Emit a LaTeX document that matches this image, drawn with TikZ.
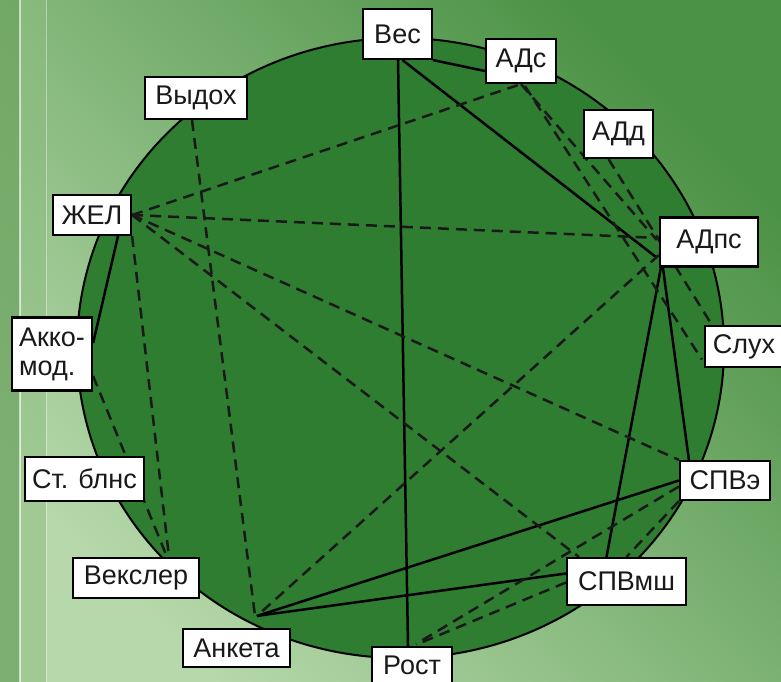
\documentclass[tikz,border=0pt]{standalone}
\usepackage{fontspec}
\setmainfont{Liberation Sans}
\usetikzlibrary{calc}
\pgfdeclarelayer{bg}
\pgfdeclarelayer{edges}
\pgfsetlayers{bg,edges,main}
\definecolor{disk}{RGB}{47,125,48}
\definecolor{bgL}{RGB}{182,216,170}
\definecolor{bgD}{RGB}{76,146,70}
\definecolor{stripeA}{RGB}{110,165,98}
\definecolor{stripeB}{RGB}{140,188,128}
\begin{document}
\begin{tikzpicture}[x=1pt,y=-1pt,
  lbl/.style={draw=black, fill=white, line width=2.2pt, inner sep=0pt,
    font=\fontsize{27}{29}\selectfont, text=black!90},
  solidedge/.style={line width=2.5pt, draw=black},
  dashededge/.style={line width=2.5pt, draw=black!90, dash pattern=on 11pt off 7pt}]
\useasboundingbox (0,0) rectangle (781,682);
% nodes
\node[lbl, minimum width=69pt, minimum height=50pt] (ves) at (397.5,34) {Вес};
\node[lbl, minimum width=70pt, minimum height=44pt] (ads) at (521,61) {АДс};
\node[lbl, minimum width=69pt, minimum height=48pt] (add) at (618.5,134) {АДд};
\node[lbl, minimum width=98pt, minimum height=49pt] (adps) at (709,242) {АДпс};
\node[lbl, minimum width=78pt, minimum height=41pt] (sluh) at (744,346.5) {Слух};
\node[lbl, minimum width=102pt, minimum height=42pt] (vydoh) at (196,98) {Выдох};
\node[lbl, minimum width=78pt, minimum height=40pt] (zhel) at (92,215) {ЖЕЛ};
\node[lbl, minimum width=80pt, minimum height=73pt, align=left] (akk) at (52,354) {Акко-\\мод.};
\node[lbl, minimum width=119pt, minimum height=44pt] (stb) at (84.5,479) {Ст. блнс};
\node[lbl, minimum width=126pt, minimum height=40pt] (veksler) at (136,578) {Векслер};
\node[lbl, minimum width=107pt, minimum height=38pt] (anketa) at (236.5,648) {Анкета};
\node[lbl, minimum width=80pt, minimum height=50pt, text height=19pt, text depth=14pt] (rost) at (412,672) {Рост};
\node[lbl, minimum width=90pt, minimum height=39pt] (spve) at (725,480.5) {СПВэ};
\node[lbl, minimum width=119pt, minimum height=47pt] (smsh) at (626.5,581.5) {СПВмш};
\coordinate (ank) at ($(anketa.north)+(20.5,-12)$);
% background
\begin{pgfonlayer}{bg}
\shade[bottom color=bgL, top color=bgD, shading angle=-45] (0,0) rectangle (781,682);
\fill[stripeA, opacity=0.8] (0,0) rectangle (20,682);
\fill[white, opacity=0.6] (19,0) rectangle (21,682);
\fill[stripeB, opacity=0.5] (21,0) rectangle (46,682);
\fill[white, opacity=0.4] (45.5,0) rectangle (47,682);
\filldraw[fill=disk, draw=black, line width=2pt] (400.5,348) ellipse [x radius=323.5pt, y radius=310pt];
\end{pgfonlayer}
% edges
\begin{pgfonlayer}{edges}
\draw[solidedge] ($(ves.south)+(0.5,0)$) -- ($(rost.north)+(-4,0)$);
\draw[solidedge] (ves.south east) -- ($(ads.west)+(0,10)$);
\draw[solidedge] ($(ves.south)+(5,0)$) -- ($(adps.west)+(-3,15)$);
\draw[solidedge] ($(zhel.south)+(26,0)$) -- ($(akk.east)+(0,-11)$);
\draw[solidedge] ($(adps.south west)+(2,0)$) -- ($(smsh.north)+(-20,0)$);
\draw[solidedge] ($(adps.south west)+(4,0)$) -- ($(spve.north west)+(10,0)$);
\draw[solidedge] (ank) -- (spve.west);
\draw[solidedge] (ank) -- ($(smsh.west)+(0,-8)$);
\draw[dashededge] (zhel.east) -- (ads.south);
\draw[dashededge] (zhel.east) -- ($(adps.west)+(0,-4)$);
\draw[dashededge] (zhel.east) -- (spve.north west);
\draw[dashededge] (zhel.east) -- ($(smsh.north west)+(13,0)$);
\draw[dashededge] (zhel.south east) -- ($(veksler.north)+(33,0)$);
\draw[dashededge] ($(akk.east)+(0,22)$) -- ($(veksler.north)+(31,0)$);
\draw[dashededge] ($(vydoh.south)+(-4,0)$) -- ($(ank)+(-2,0)$);
\draw[dashededge] ($(adps.west)+(0,13)$) -- (ank);
\draw[dashededge] (ads.south) -- ($(adps.west)+(-2,-2)$);
\draw[dashededge] ($(ads.south)+(4,2)$) -- ($(sluh.west)+(-2,13)$);
\draw[dashededge] ($(add.south)+(-10,0)$) -- ($(sluh.north west)+(8,0)$);
\draw[dashededge] ($(spve.west)+(0,6)$) -- ($(rost.north)+(4,-2)$);
\draw[dashededge] (spve.south west) -- (smsh.north);
\draw[dashededge] ($(smsh.west)+(0,1)$) -- ($(rost.north)+(6,-2)$);
\end{pgfonlayer}
\end{tikzpicture}
\end{document}
